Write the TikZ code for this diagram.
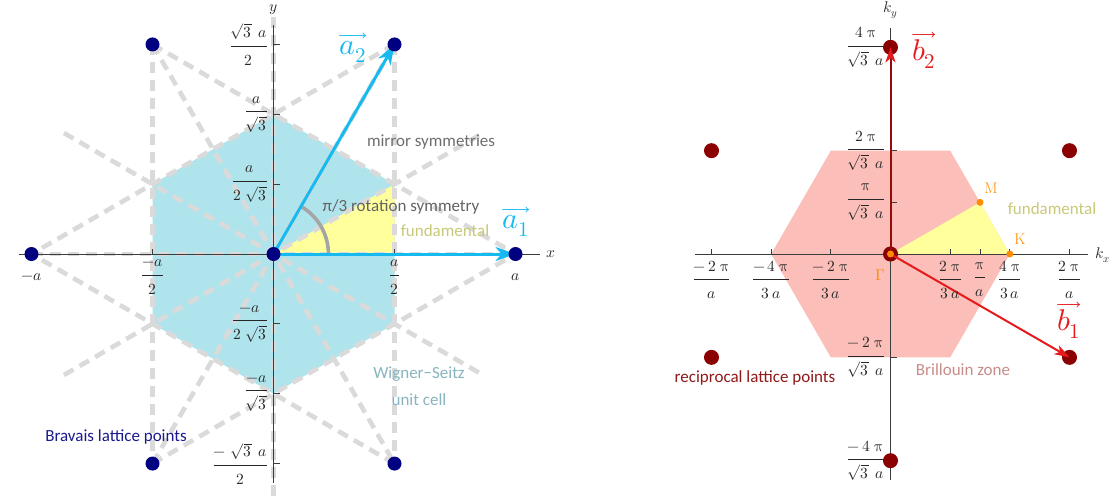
\documentclass[tikz,border=0pt]{standalone}
\usepackage{amsmath}
\usepackage{unicode-math}
\setmathfont{Latin Modern Math}
\newfontfamily\carl{Carlito}
\usetikzlibrary{arrows.meta}
\definecolor{navyd}{RGB}{0,0,128}
\definecolor{cyanA}{RGB}{22,186,240}
\definecolor{wsblue}{RGB}{176,228,236}
\definecolor{fundy}{RGB}{255,255,155}
\definecolor{bzpink}{RGB}{251,190,184}
\definecolor{dred}{RGB}{139,0,0}
\definecolor{bline}{RGB}{150,10,10}
\definecolor{redB}{RGB}{228,26,28}
\definecolor{orng}{RGB}{255,140,0}
\definecolor{mirrorc}{RGB}{218,218,218}
\definecolor{arcg}{RGB}{165,165,165}
\definecolor{axisg}{RGB}{60,60,60}
\definecolor{txtgray}{RGB}{110,110,110}
\definecolor{txtfund}{RGB}{200,200,120}
\definecolor{txtws}{RGB}{135,180,190}
\definecolor{txtbz}{RGB}{200,140,135}
\definecolor{txtrl}{RGB}{145,25,25}
\definecolor{txtbr}{RGB}{25,25,140}
\newcommand{\fr}[2]{$\displaystyle\frac{#1\rule[-6pt]{0pt}{6pt}}{\rule{0pt}{17pt}#2}$}
\newcommand{\upi}{\symup{\pi}}
\tikzset{
 mirrorline/.style={draw=mirrorc, line width=4.6pt, dash pattern=on 11pt off 7pt},
 axisln/.style={draw=axisg, line width=0.9pt},
 tickln/.style={draw=axisg, line width=0.9pt},
 latt/.style={circle, fill=navyd, inner sep=0pt, minimum size=14pt},
 recl/.style={circle, fill=dred, inner sep=0pt, minimum size=15pt},
 spt/.style={circle, fill=orng, inner sep=0pt, minimum size=7pt},
 veca/.style={draw=cyanA, line width=3pt, -{Stealth[length=20pt,width=14pt,inset=6pt]}},
 vecb/.style={draw=redB, line width=2pt, -{Stealth[length=15pt,width=10pt,inset=4pt]}},
 vecbb/.style={draw=bline, line width=2pt, -{Stealth[length=15pt,width=10pt,inset=4pt,color=redB]}},
 mlbl/.style={inner sep=0pt, font=\fontsize{15.5}{18}\selectfont, text=black!85},
 txt/.style={inner sep=0pt, font=\carl\fontsize{17}{20}\selectfont},
 biglbl/.style={inner sep=0pt, font=\fontsize{30}{34}\selectfont},
}
\begin{document}
\begin{tikzpicture}[x=1pt,y=-1pt]
\useasboundingbox (0,0) rectangle (1117,499);
% ================= LEFT PANEL =================
\begin{scope}[shift={(273.5,254)}, x=242pt, y=242pt]
\coordinate (O) at (0,0);
\coordinate (A1) at (1,0);
\coordinate (Am1) at (-1,0);
\coordinate (A2) at (0.5,0.866025);
\coordinate (A3) at (-0.5,0.866025);
\coordinate (A4) at (-0.5,-0.866025);
\coordinate (A5) at (0.5,-0.866025);
\coordinate (W1) at (0,0.57735);
\coordinate (W2) at (0.5,0.288675);
\coordinate (W3) at (0.5,-0.288675);
\coordinate (W4) at (0,-0.57735);
\coordinate (W5) at (-0.5,-0.288675);
\coordinate (W6) at (-0.5,0.288675);
\coordinate (F1) at (0.5,0);
% Wigner-Seitz cell and fundamental region
\fill[wsblue] (W1) -- (W2) -- (W3) -- (W4) -- (W5) -- (W6) -- cycle;
\fill[fundy] (O) -- (F1) -- (W2) -- cycle;
% mirror lines
\coordinate (M0a) at (-1,0); \coordinate (M0b) at (1,0);
\coordinate (M90a) at (0,-1); \coordinate (M90b) at (0,1);
\coordinate (M30a) at (210:1); \coordinate (M30b) at (30:1);
\coordinate (M150a) at (150:1); \coordinate (M150b) at (330:1);
\draw[mirrorline] (M0a) -- (M0b);
\draw[mirrorline] (M90a) -- (M90b);
\draw[mirrorline] (M30a) -- (M30b);
\draw[mirrorline] (M150a) -- (M150b);
\draw[mirrorline] (A4) -- (A2);
\draw[mirrorline] (A3) -- (A5);
\draw[mirrorline] (A3) -- (A1);
\draw[mirrorline] (A4) -- (A1);
\draw[mirrorline] (A2) -- (Am1);
\draw[mirrorline] (A5) -- (Am1);
\draw[mirrorline] (A3) -- (A4);
\draw[mirrorline] (A2) -- (A5);
% rotation arc
\draw[arcg, line width=3.6pt] (0.227,0) arc[start angle=0, end angle=60, radius=0.227];
% axes
\coordinate (XL) at (-1.05,0); \coordinate (XR) at (1.101,0);
\coordinate (YB) at (0,-0.946); \coordinate (YT) at (0,0.946);
\draw[axisln] (XL) -- (XR);
\draw[axisln] (YB) -- (YT);
\foreach \t in {-1,-0.5,0.5,1} \draw[tickln] (\t,0) -- ++(0,5pt);
\foreach \t in {-0.866025,-0.57735,-0.288675,0.288675,0.57735,0.866025} \draw[tickln] (0,\t) -- ++(6pt,0);
% vectors
\draw[veca] (O) -- (A1);
\draw[veca] (O) -- (A2);
% lattice points
\node[latt] (p0) at (O) {};
\node[latt] (p1) at (A1) {};
\node[latt] (p2) at (Am1) {};
\node[latt] (p3) at (A2) {};
\node[latt] (p4) at (A3) {};
\node[latt] (p5) at (A4) {};
\node[latt] (p6) at (A5) {};
% tick labels
\node[mlbl] (lxm1) at ([yshift=-23pt]-1,0) {$-a$};
\node[mlbl] (lxm2) at ([yshift=-23pt]-0.5,0) {\fr{-a}{2}};
\node[mlbl] (lxp2) at ([yshift=-23pt]0.5,0) {\fr{a}{2}};
\node[mlbl] (lxp1) at ([yshift=-23pt]1,0) {$a$};
\node[mlbl, anchor=east] (ly1) at ([xshift=-5.5pt]0,0.866025) {\fr{\sqrt{3}\mkern8mu a}{2}};
\node[mlbl, anchor=east] (ly2) at ([xshift=-5.5pt]0,0.57735) {\fr{a}{\sqrt{3}}};
\node[mlbl, anchor=east] (ly3) at ([xshift=-5.5pt]0,0.288675) {\fr{a}{2\mkern6mu\sqrt{3}}};
\node[mlbl, anchor=east] (ly4) at ([xshift=-5.5pt]0,-0.288675) {\fr{-a}{2\mkern6mu\sqrt{3}}};
\node[mlbl, anchor=east] (ly5) at ([xshift=-5.5pt]0,-0.57735) {\fr{-a}{\sqrt{3}}};
\node[mlbl, anchor=east] (ly6) at ([xshift=-5.5pt]0,-0.866025) {\fr{-\mkern6mu\sqrt{3}\mkern8mu a}{2}};
\end{scope}
\node[mlbl] (xlab) at (551,254) {$x$};
\node[mlbl] (ylab) at (273.5,10) {$y$};
\node[biglbl, text=cyanA] (la2) at (353,48) {$\overrightarrow{a_2}$};
\node[biglbl, text=cyanA] (la1) at (516,222) {$\overrightarrow{a_1}$};
\node[txt, text=txtgray] (tms) at (431,142) {mirror symmetries};
\node[txt, text=txtgray!90!black] (trot) at (401,207) {π/3 rotation symmetry};
\node[txt, text=txtfund] (tfl) at (445,231) {fundamental};
\node[txt, text=txtws] (tws1) at (419,374) {Wigner−Seitz};
\node[txt, text=txtws] (tws2) at (419,400) {unit cell};
\node[txt, text=txtbr] (tbr) at (116,437) {Bravais lattice points};
% ================= RIGHT PANEL =================
\begin{scope}[shift={(890.5,254)}, x=179pt, y=179pt]
\coordinate (G) at (0,0);
\coordinate (Kp) at (0.666667,0);
\coordinate (Mp) at (0.5,0.288675);
\coordinate (B1) at (1,-0.57735);
\coordinate (B2) at (0,1.154701);
\coordinate (R3) at (-1,0.57735);
\coordinate (R4) at (1,0.57735);
\coordinate (R5) at (-1,-0.57735);
\coordinate (R6) at (0,-1.154701);
\coordinate (Z1) at (0.666667,0);
\coordinate (Z2) at (0.333333,0.57735);
\coordinate (Z3) at (-0.333333,0.57735);
\coordinate (Z4) at (-0.666667,0);
\coordinate (Z5) at (-0.333333,-0.57735);
\coordinate (Z6) at (0.333333,-0.57735);
\fill[bzpink] (Z1) -- (Z2) -- (Z3) -- (Z4) -- (Z5) -- (Z6) -- cycle;
\fill[fundy] (G) -- (Kp) -- (Mp) -- cycle;
\coordinate (KXL) at (-1.092,0); \coordinate (KXR) at (1.103,0);
\coordinate (KYB) at (0,-1.263); \coordinate (KYT) at (0,1.263);
\draw[axisln] (KXL) -- (KXR);
\draw[axisln] (KYB) -- (KYT);
\foreach \t in {-1,-0.666667,-0.333333,0.333333,0.5,0.666667,1} \draw[tickln] (\t,0) -- ++(0,5pt);
\foreach \t in {-1.154701,-0.57735,0.288675,0.57735,1.154701} \draw[tickln] (0,\t) -- ++(6pt,0);
\node[recl] (q0) at (G) {};
\node[recl] (q1) at (B1) {};
\node[recl] (q2) at (B2) {};
\node[recl] (q3) at (R3) {};
\node[recl] (q4) at (R4) {};
\node[recl] (q5) at (R5) {};
\node[recl] (q6) at (R6) {};
\draw[vecb] (G) -- (B1);
\draw[vecbb] (G) -- (B2);
\node[spt] (sg) at (G) {};
\node[spt] (sk) at (Kp) {};
\node[spt] (sm) at (Mp) {};
% tick labels
\node[mlbl] (k1) at ([yshift=-26pt]-1,0) {\fr{-\,2\;\upi}{a}};
\node[mlbl] (k2) at ([yshift=-26pt]-0.666667,0) {\fr{-\,4\;\upi}{3\,a}};
\node[mlbl] (k3) at ([yshift=-26pt]-0.333333,0) {\fr{-\,2\;\upi}{3\,a}};
\node[mlbl] (k4) at ([yshift=-26pt]0.333333,0) {\fr{2\;\upi}{3\,a}};
\node[mlbl] (k5) at ([yshift=-26pt]0.5,0) {\fr{\upi}{a}};
\node[mlbl] (k6) at ([yshift=-26pt]0.666667,0) {\fr{4\;\upi}{3\,a}};
\node[mlbl] (k7) at ([yshift=-26pt]1,0) {\fr{2\;\upi}{a}};
\node[mlbl, anchor=east] (ky1) at ([xshift=-5.5pt]0,1.154701) {\fr{4\;\upi}{\sqrt{3}\mkern8mu a}};
\node[mlbl, anchor=east] (ky2) at ([xshift=-5.5pt]0,0.57735) {\fr{2\;\upi}{\sqrt{3}\mkern8mu a}};
\node[mlbl, anchor=east] (ky3) at ([xshift=-5.5pt]0,0.288675) {\fr{\upi}{\sqrt{3}\mkern8mu a}};
\node[mlbl, anchor=east] (ky4) at ([xshift=-5.5pt]0,-0.57735) {\fr{-\,2\;\upi}{\sqrt{3}\mkern8mu a}};
\node[mlbl, anchor=east] (ky5) at ([xshift=-5.5pt]0,-1.154701) {\fr{-\,4\;\upi}{\sqrt{3}\mkern8mu a}};
\end{scope}
\node[mlbl] (kxlab) at (1103,255) {$k_x$};
\node[mlbl] (kylab) at (891,10) {$k_y$};
\node[mlbl, text=orng] (lg) at (880,275) {$\Gamma$};
\node[mlbl, text=orng] (lm) at (991,188) {$\mathrm{M}$};
\node[mlbl, text=orng] (lk) at (1020,239) {$\mathrm{K}$};
\node[biglbl, text=redB] (lb2) at (924,50) {$\overrightarrow{b_2}$};
\node[biglbl, text=redB] (lb1) at (1069,320) {$\overrightarrow{b_1}$};
\node[txt, text=txtfund] (tfr) at (1052,209) {fundamental};
\node[txt, text=txtbz] (tbz) at (963,370) {Brillouin zone};
\node[txt, text=txtrl] (trl) at (755,378) {reciprocal lattice points};
\end{tikzpicture}
\end{document}
